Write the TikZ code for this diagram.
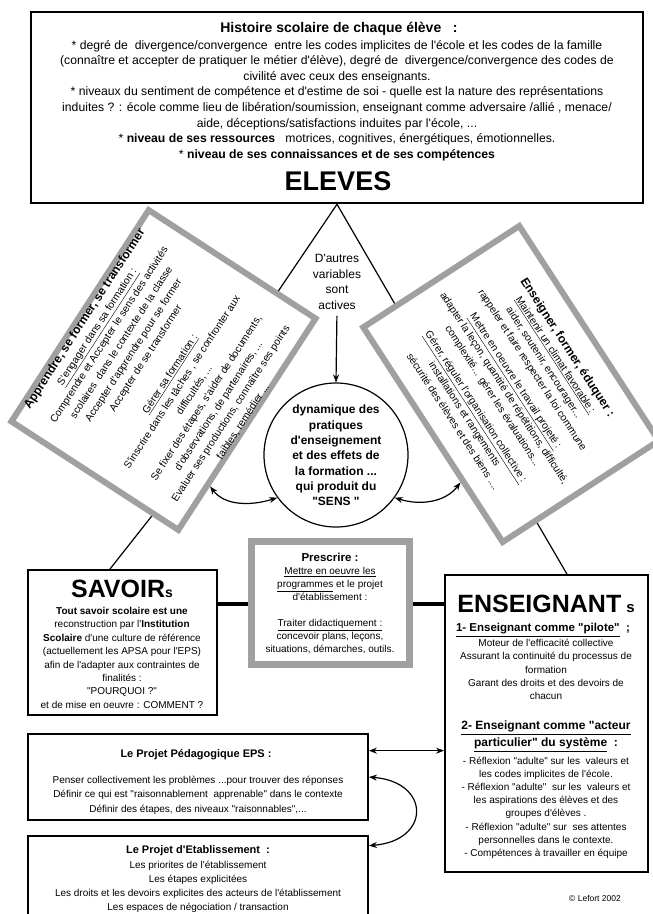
\documentclass[tikz,border=0pt]{standalone}
\usepackage{fontspec}
\setmainfont{Liberation Sans}[Ligatures=TeXOff]
\usetikzlibrary{calc,arrows.meta}
\definecolor{boxgray}{HTML}{A0A0A0}
\newcommand{\fsz}[2]{\fontsize{#1}{#2}\selectfont}
\tikzset{
  graybox/.style={draw=boxgray, line width=6pt, inner sep=0pt},
  blackbox/.style={draw=black, line width=1.8pt, inner sep=0pt},
  txt/.style={inner sep=0pt, align=center},
  conn/.style={line width=1.2pt},
  tip/.style={-{Stealth[length=8pt,width=6pt]}},
  dtip/.style={{Stealth[length=8pt,width=6pt]}-{Stealth[length=8pt,width=6pt]}},
}
\begin{document}
\begin{tikzpicture}[x=1pt,y=-1pt]
\useasboundingbox (0,0) rectangle (653,914);
\clip (0,0) rectangle (653,914);
\fill[white] (0,0) rectangle (653,914);

% ---------- top box : ELEVES ----------
\node[draw, line width=2.5pt, inner sep=0pt, minimum width=612pt, minimum height=191pt] (top) at (337,107.5) {};
\node[txt, font=\bfseries\fsz{14}{16}] (toptitle) at (339,29) {Histoire scolaire de chaque élève \ \ :};
\node[txt, anchor=north, font=\fsz{12.2}{15.6}] (toptext) at (337,40) {%
* degré de\ \ divergence/convergence\ \ entre les codes implicites de l'école et les codes de la famille\\
(connaître et accepter de pratiquer le métier d'élève), degré de\ \ divergence/convergence des codes de\\
civilité avec ceux des enseignants.\\
* niveaux du sentiment de compétence et d'estime de soi - quelle est la nature des représentations\\
induites ? : école comme lieu de libération/soumission, enseignant comme adversaire /allié , menace/\\
aide, déceptions/satisfactions induites par l'école, ...\\
* \textbf{niveau de ses ressources}\ \ \ motrices, cognitives, énergétiques, émotionnelles.\\
* \textbf{niveau de ses connaissances et de ses compétences}};
\node[txt, anchor=base, font=\bfseries\fsz{27}{30}] (eleves) at (338,190) {ELEVES};

% ---------- rotated gray boxes ----------
\node[graybox, rotate=57, minimum width=252pt, minimum height=199pt] (lbox) at (163.5,370) {};
\node[txt, rotate=57, font=\fsz{10.3}{14.5}] (ltext) at (lbox.center) {%
{\bfseries\fsz{12}{14.5}Apprendre, se former, se transformer}\\
\underline{S'engager dans sa formation :}\\
Comprendre et Accepter le sens des activités\\
scolaires\ \ dans le contexte de la classe\\
Accepter d'apprendre pour se former\\
Accepter de se transformer\\[14.5pt]
\underline{Gérer sa formation :}\\
S'inscrire dans les tâches , se confronter aux\\
difficultés, ...\\
Se fixer des étapes, s'aider de documents,\\
d'observations, de partenaires, ...\\
Evaluer ses productions, connaître ses points\\
faibles, remédier ...};

\node[graybox, rotate=-57, minimum width=256pt, minimum height=186pt] (rbox) at (511,384) {};
\node[txt, rotate=-57, font=\fsz{10.3}{13.8}] (rtext) at (rbox.center) {%
{\bfseries\fsz{12}{13.8}Enseigner, former, éduquer :}\\
\underline{Maintenir un climat favorable :}\\
aider, soutenir, encourager...\\
rappeler et faire respecter la loi commune\\[6pt]
\underline{Mettre en oeuvre le travail projeté :}\\
adapter la leçon, quantité de répétitions, difficulté,\\
complexité... gérer les évaluations...\\[6pt]
\underline{Gérer, réguler l'organisation collective :}\\
installations et rangements\\
sécurité des élèves et des biens ....};

% ---------- centre ----------
\node[txt, anchor=north, font=\fsz{12}{15.7}] (autres) at (337,254) {D'autres\\ variables\\ sont\\ actives};
\node[draw, circle, line width=1.2pt, minimum size=144pt, inner sep=0pt] (circ) at (336,455) {};
\node[txt, anchor=north, font=\bfseries\fsz{12}{15.3}] (circt) at (336,405) {dynamique des\\ pratiques\\ d'enseignement\\ et des effets de\\ la formation ...\\ qui produit du\\ "SENS "};

\coordinate (apex) at (top.south -| autres.north);
\draw[conn] (apex) -- ($(lbox.north east)!0.76!(lbox.south east)$);
\draw[conn] (apex) -- ($(rbox.south west)!0.22!(rbox.north west)$);
\draw[conn, tip, shorten <=6pt] (autres.south) -- (circ.north);
\coordinate (la) at ($(lbox.south east)!0.78!(lbox.south west)$);
\coordinate (ra) at ($(rbox.south west)!0.71!(rbox.south east)$);
\draw[conn, dtip] (la) .. controls +(15,20) and +(-25,8) .. (circ.216);
\draw[conn, dtip] (circ.324) .. controls +(25,8) and +(-15,20) .. (ra);

% ---------- SAVOIR ----------
\node[blackbox, minimum width=189pt, minimum height=145pt] (savoir) at (122.5,642.5) {};
\node[txt, anchor=base, font=\bfseries\fsz{25}{27}] (savt) at (122,597) {SAVOIR{\fsz{14}{14}s}};
\node[txt, anchor=north, font=\fsz{10}{13.4}] (savtext) at (122,607) {%
\textbf{Tout savoir scolaire est une}\\
reconstruction par l'\textbf{Institution}\\
\textbf{Scolaire} d'une culture de référence\\
(actuellement les APSA pour l'EPS)\\
afin de l'adapter aux contraintes de\\
finalités :\\
"POURQUOI ?"\\
et de mise en oeuvre : COMMENT ?};

% ---------- Prescrire ----------
\node[draw=boxgray, line width=7pt, inner sep=0pt, minimum width=158pt, minimum height=123pt] (presc) at (330.5,603) {};
\node[txt, font=\bfseries\fsz{11.5}{13}] (prt) at (330,557) {Prescrire :};
\node[txt, anchor=north, font=\fsz{10}{13}] (prtext) at (330,567) {%
\underline{Mettre en oeuvre les}\\
\underline{programmes} et le projet\\
d'établissement :\\[13pt]
\underline{Traiter didactiquement :}\\
concevoir plans, leçons,\\
situations, démarches, outils.};

% ---------- ENSEIGNANTs ----------
\node[blackbox, minimum width=203pt, minimum height=297pt] (ens) at (546.5,723.5) {};
\node[txt, anchor=base, font=\bfseries\fsz{25}{27}] (enst) at (546,612) {ENSEIGNANT\hspace{5pt}{\fsz{15}{15}s}};
\node[txt, font=\bfseries\fsz{11.5}{13}] (e1) at (543,630) {\underline{1- Enseignant comme "pilote"}\ \ ;};
\node[txt, anchor=north, font=\fsz{10}{13.3}] (e1t) at (546,639) {%
Moteur de l'efficacité collective\\
Assurant la continuité du processus de\\
formation\\
Garant des droits et des devoirs de\\
chacun};
\node[txt, anchor=north, font=\bfseries\fsz{12}{17}] (e2) at (546,721) {%
\underline{2- Enseignant comme "acteur}\\
\underline{particulier" du système}\ \ :};
\node[txt, anchor=north, font=\fsz{10}{13.1}] (e2t) at (546,757) {%
- Réflexion "adulte" sur les\ \ valeurs et\\
les codes implicites de l'école.\\
- Réflexion "adulte"\ \ sur les\ \ valeurs et\\
les aspirations des élèves et des\\
groupes d'élèves .\\
- Réflexion "adulte" sur\ \ ses attentes\\
personnelles dans le contexte.\\
- Compétences à travailler en équipe};

% ---------- connectors to lower boxes ----------
\coordinate (p1) at ($(savoir.north east)!0.24!(savoir.south east)$);
\draw[line width=4pt] (p1) -- (p1 -| presc.west);
\draw[line width=4pt] (p1 -| presc.east) -- (p1 -| ens.west);
\draw[conn] ($(savoir.north west)!0.434!(savoir.north east)$) -- ($(lbox.north west)!0.84!(lbox.south west)$);
\draw[conn] ($(ens.north west)!0.6!(ens.north east)$) -- ($(rbox.north east)!0.78!(rbox.south east)$);

% ---------- Projet pedagogique / etablissement ----------
\node[blackbox, minimum width=340pt, minimum height=86pt] (pp) at (198,777) {};
\node[txt, font=\bfseries\fsz{11}{13}] (pptitle) at (196,755) {Le Projet Pédagogique EPS :};
\node[txt, anchor=north, font=\fsz{10}{14.3}] (pptext) at (198,776) {%
Penser collectivement les problèmes ...pour trouver des réponses\\
Définir ce qui est "raisonnablement\ \ apprenable" dans le contexte\\
Définir des étapes, des niveaux "raisonnables",...};
\node[blackbox, minimum width=340pt, minimum height=130pt] (pe) at (198,901) {};
\node[txt, font=\bfseries\fsz{11}{13}] (petitle) at (198,851) {Le Projet d'Etablissement\ \ :};
\node[txt, anchor=north, font=\fsz{10}{14}] (petext) at (198,861) {%
Les priorites de l'établissement\\
Les étapes explicitées\\
Les droits et les devoirs explicites des acteurs de l'établissement\\
Les espaces de négociation / transaction\\
....};

\coordinate (p2) at ($(pp.north east)!0.2!(pp.south east)$);
\draw[conn, dtip] (p2) -- (p2 -| ens.west);
\draw[conn, dtip] ($(pp.north east)!0.5!(pp.south east)$) .. controls +(62,5) and +(62,-5) .. ($(pe.north east)!0.08!(pe.south east)$);

\node[txt, font=\fsz{8.5}{10}] (copy) at (595,898) {© Lefort 2002};
\end{tikzpicture}
\end{document}
